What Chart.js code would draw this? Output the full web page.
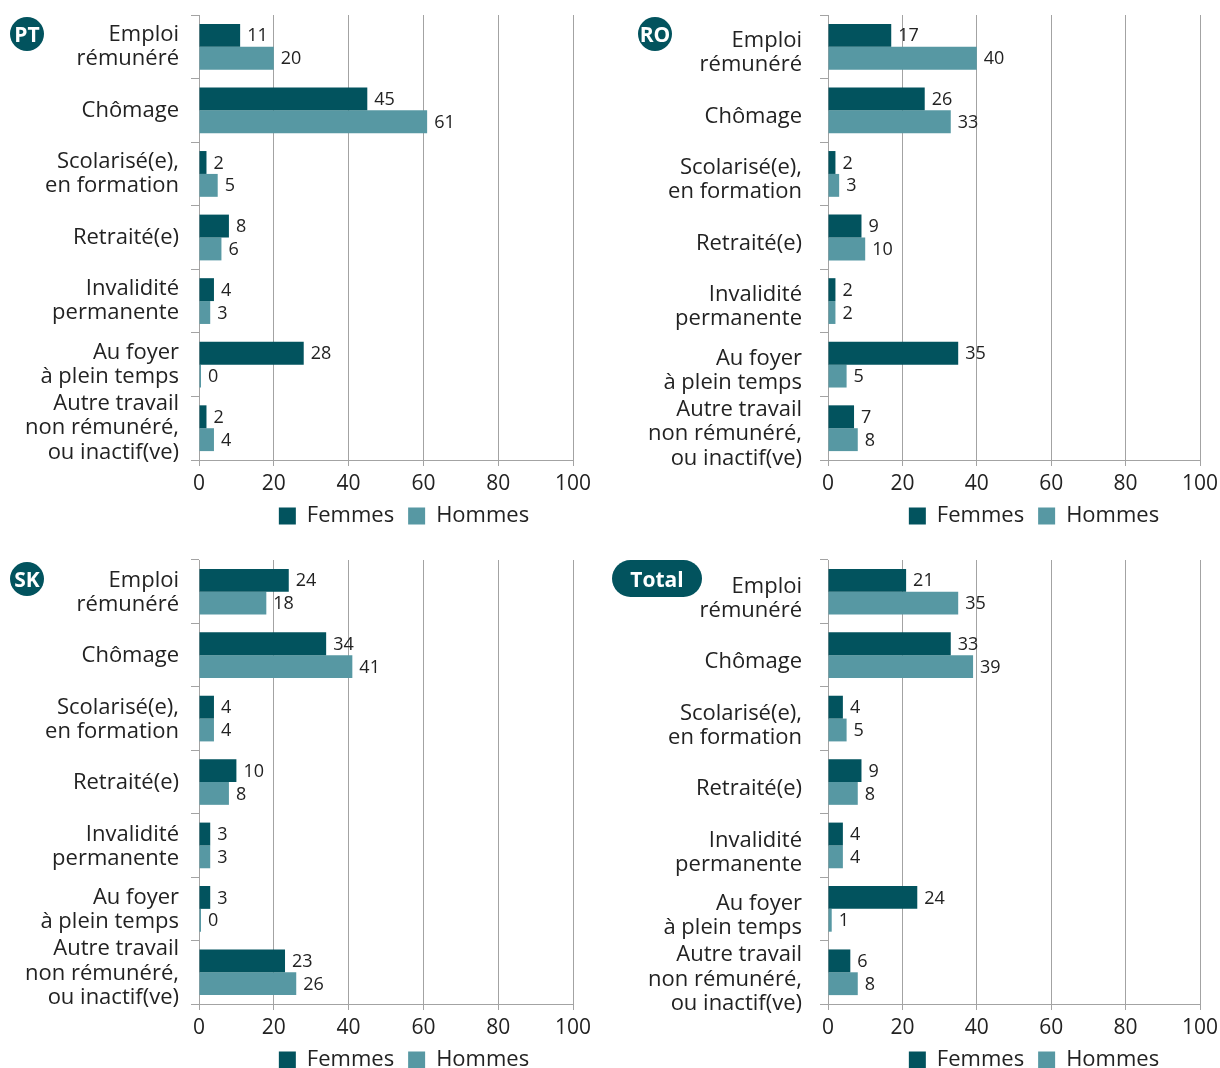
<!DOCTYPE html>
<html lang="fr">
<head>
<meta charset="utf-8">
<script src="https://cdn.jsdelivr.net/npm/chart.js@4.4.1/dist/chart.umd.min.js"></script>
<style>
  body { margin: 0; background: #fff; }
  .page { position: relative; width: 1220px; height: 1068px; overflow: hidden; }
  canvas { position: absolute; }
  .badge {
    position: absolute;
    background: #02535e;
    color: #fff;
    font: bold 21px 'Open Sans', sans-serif;
    display: flex;
    align-items: center;
    justify-content: center;
  }
</style>
</head>
<body>
<div class="page" id="page"></div>
<script>
const categories = [
  ['Emploi', 'rémunéré'],
  ['Chômage'],
  ['Scolarisé(e),', 'en formation'],
  ['Retraité(e)'],
  ['Invalidité', 'permanente'],
  ['Au foyer', 'à plein temps'],
  ['Autre travail', 'non rémunéré,', 'ou inactif(ve)']
]
const seriesNames = ['Femmes', 'Hommes']
const xTicks = [0, 20, 40, 60, 80, 100]

const ptFemmes = [11, 45, 2, 8, 4, 28, 2]
const ptHommes = [20, 61, 5, 6, 3, 0, 4]
const roFemmes = [17, 26, 2, 9, 2, 35, 7]
const roHommes = [40, 33, 3, 10, 2, 5, 8]
const skFemmes = [24, 34, 4, 10, 3, 3, 23]
const skHommes = [18, 41, 4, 8, 3, 0, 26]
const totalFemmes = [21, 33, 4, 9, 4, 24, 6]
const totalHommes = [35, 39, 5, 8, 4, 1, 8]

const dark = '#02535e'
const light = '#5798a3'
const gridColor = '#a3a3a3'
const textColor = '#222222'
const family = "'Open Sans', sans-serif"

Chart.defaults.font.family = family
Chart.defaults.color = textColor

// panel layout: position on page, y-axis width, right padding, label nudges
const panels = [
  { title: 'PT', femmes: ptFemmes, hommes: ptHommes, left: 0, top: 0, height: 537,
    yWidth: 199, padRight: 37, labelPad: 12, labelOffset: 0, legendCenter: 404,
    badge: { left: 10, top: 17, width: 34, height: 34 } },
  { title: 'RO', femmes: roFemmes, hommes: roHommes, left: 610, top: 0, height: 537,
    yWidth: 218, padRight: 20, labelPad: 18, labelOffset: 6, legendCenter: 424,
    badge: { left: 638, top: 17, width: 34, height: 34 } },
  { title: 'SK', femmes: skFemmes, hommes: skHommes, left: 0, top: 545, height: 536,
    yWidth: 199, padRight: 37, labelPad: 12, labelOffset: 1, legendCenter: 404,
    badge: { left: 10, top: 562, width: 34, height: 34 } },
  { title: 'Total', femmes: totalFemmes, hommes: totalHommes, left: 610, top: 545, height: 536,
    yWidth: 218, padRight: 20, labelPad: 18, labelOffset: 7, legendCenter: 424,
    badge: { left: 612, top: 560, width: 90, height: 37 } }
]

// value written just right of each bar end
const valueLabels = {
  id: 'valueLabels',
  afterDatasetsDraw(chart) {
    const ctx = chart.ctx
    ctx.save()
    ctx.font = `18px ${family}`
    ctx.fillStyle = textColor
    ctx.textBaseline = 'middle'
    chart.data.datasets.forEach((ds, i) => {
      chart.getDatasetMeta(i).data.forEach((bar, j) => {
        ctx.fillText(ds.data[j], bar.x + 7, bar.y + 1)
      })
    })
    ctx.restore()
  }
}

// move the legend so its centre sits where the original has it
const legendShift = {
  id: 'legendShift',
  afterLayout(chart, args, opts) {
    const legend = chart.legend
    if (!legend) return
    const dx = opts.center - (legend.left + legend.right) / 2
    legend.left += dx
    legend.right += dx
  }
}

const page = document.getElementById('page')

for (const p of panels) {
  const canvas = document.createElement('canvas')
  canvas.width = 610
  canvas.height = p.height
  canvas.style.left = p.left + 'px'
  canvas.style.top = p.top + 'px'
  page.appendChild(canvas)

  const badge = document.createElement('div')
  badge.className = 'badge'
  badge.textContent = p.title
  badge.style.left = p.badge.left + 'px'
  badge.style.top = p.badge.top + 'px'
  badge.style.width = p.badge.width + 'px'
  badge.style.height = p.badge.height + 'px'
  badge.style.borderRadius = (p.badge.height / 2) + 'px'
  page.appendChild(badge)

  new Chart(canvas, {
    type: 'bar',
    data: {
      labels: categories,
      datasets: [
        { label: seriesNames[0], data: p.femmes, backgroundColor: dark, borderWidth: 0 },
        { label: seriesNames[1], data: p.hommes, backgroundColor: light, borderWidth: 0 }
      ]
    },
    options: {
      indexAxis: 'y',
      responsive: false,
      animation: false,
      categoryPercentage: 0.72,
      barPercentage: 1,
      minBarLength: 2,
      layout: { padding: { top: 15, right: p.padRight, left: 0, bottom: 0 } },
      scales: {
        x: {
          min: xTicks[0],
          max: xTicks[xTicks.length - 1],
          ticks: { stepSize: xTicks[1] - xTicks[0], color: textColor, font: { size: 21 }, padding: 5 },
          grid: { color: gridColor, tickLength: 6 },
          border: { color: gridColor },
          afterFit: s => { s.height = 31; s.paddingLeft = 0; s.paddingRight = 0 }
        },
        y: {
          grid: { drawOnChartArea: false, tickLength: 8, color: gridColor },
          border: { color: gridColor },
          ticks: {
            color: textColor,
            font: { size: 22, lineHeight: 1.1 },
            padding: p.labelPad,
            labelOffset: p.labelOffset,
            autoSkip: false
          },
          afterFit: s => { s.width = p.yWidth; s.paddingTop = 0; s.paddingBottom = 0 }
        }
      },
      plugins: {
        legend: {
          position: 'bottom',
          labels: { boxWidth: 17, boxHeight: 17, padding: 14, color: textColor, font: { size: 22 } }
        },
        tooltip: { enabled: false },
        legendShift: { center: p.legendCenter }
      }
    },
    plugins: [valueLabels, legendShift]
  })
}
</script>
</body>
</html>
